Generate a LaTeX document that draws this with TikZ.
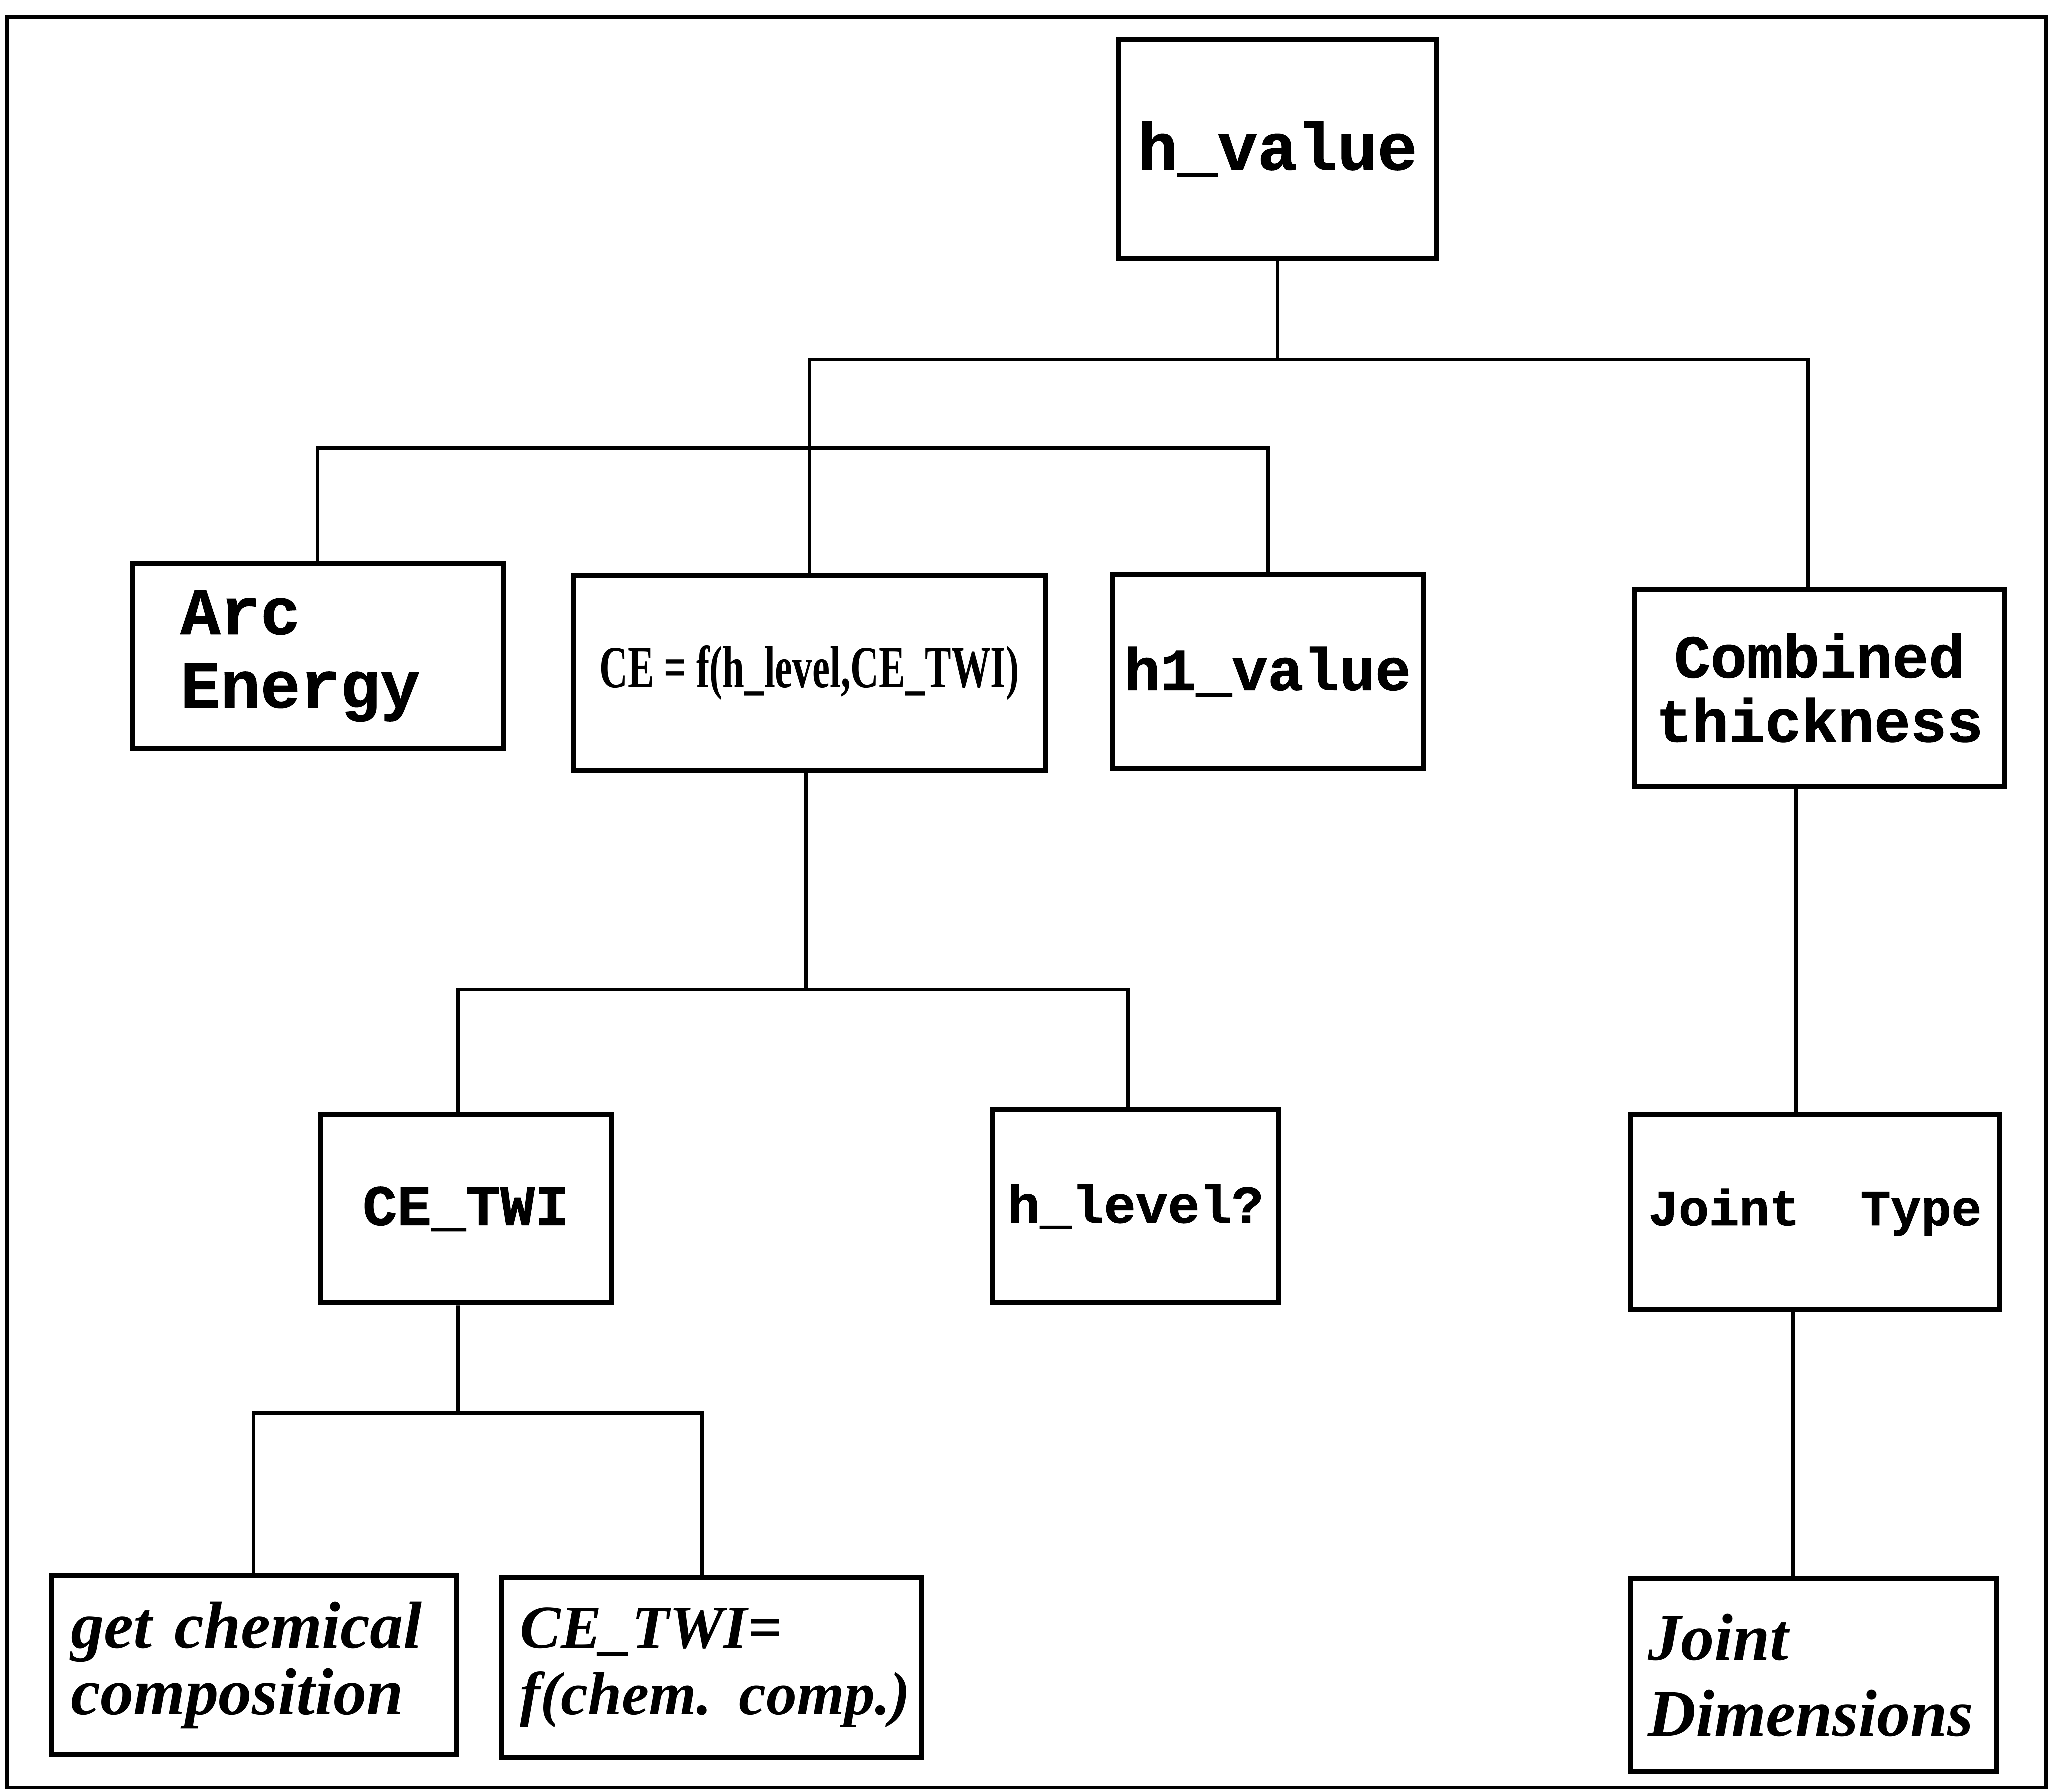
\documentclass[tikz,border=0pt]{standalone}
\usepackage{fontspec}
\usepackage{tikz}
\setmainfont{Liberation Serif}
\newfontfamily\typefont[BoldFeatures={FakeBold=1}]{Liberation Mono}
\newfontfamily\condfont[FakeStretch=0.66]{Liberation Serif}

\begin{document}
\begin{tikzpicture}[box/.style={draw, line width=1.1pt, inner sep=0pt, minimum width=#1},
    type/.style={font=\typefont\bfseries\fontsize{#1}{15}\selectfont},
    slant/.style={font=\rmfamily\bfseries\itshape\fontsize{14.5}{14.5}\selectfont, align=left},
    line width=0.8pt]

    \useasboundingbox (0, 0) rectangle (15.68, 13.71);
    \draw (0.05, 0.03) rectangle (15.66, 13.58);

    \node[box=2.43cm, minimum height=1.68cm, type=14.5] (hval) at (9.775, 12.57) {h\_value};

    \node[box=2.84cm, minimum height=1.42cm, type=14.5, align=left, text width=2.10cm] (arc) at (2.43, 8.69) {Arc\\[1pt]Energy};
    \node[box=3.61cm, minimum height=1.49cm, font=\condfont\bfseries\fontsize{13}{13}\selectfont] (ce) at (6.195, 8.56) {CE = f(h\_level,CE\_TWI)};
    \node[box=2.38cm, minimum height=1.48cm, type=13] (hone) at (9.70, 8.57) {h1\_value};
    \node[box=2.83cm, minimum height=1.51cm, type=13.2, align=center] (comb) at (13.925, 8.445) {Combined\\[-1pt]thickness};

    \node[box=2.23cm, minimum height=1.44cm, type=12.5] (cetwi) at (3.565, 4.46) {CE\_TWI};
    \node[box=2.18cm, minimum height=1.48cm, type=11.6] (hlev) at (8.69, 4.48) {h\_level?};
    \node[box=2.82cm, minimum height=1.49cm, type=11] (jtype) at (13.89, 4.435) {Joint\ \ Type};

    \node[box=3.10cm, minimum height=1.37cm, slant, text width=2.80cm] (chem) at (1.94, 0.965) {get chemical\\composition};
    \node[box=3.21cm, minimum height=1.38cm, slant, text width=2.93cm, font=\rmfamily\bfseries\itshape\fontsize{13.3}{14.5}\selectfont] (cefun) at (5.445, 0.95) {CE\_TWI=\\\mbox{f(chem.\hspace{0.45em}comp.)}};
    \node[box=2.80cm, minimum height=1.48cm, slant, text width=2.54cm] (jdim) at (13.88, 0.89) {Joint\\[2pt]Dimensions};

    \coordinate (top) at (9.775, 10.96);
    \coordinate (mid) at (6.17, 10.28);
    \coordinate (low) at (6.17, 6.14);
    \coordinate (bot) at (3.505, 2.90);

    \draw (hval.south) to (top);
    \draw (ce.north) |- (top) -| ([xshift=-0.09cm]comb.north);
    \draw (arc.north) |- (mid) -| (hone.north);
    \draw ([xshift=-0.025cm]ce.south) to (low);
    \draw ([xshift=-0.06cm]cetwi.north) |- (low) -| ([xshift=-0.06cm]hlev.north);
    \draw ([xshift=-0.06cm]cetwi.south) to (bot);
    \draw (chem.north) |- (bot) -| ([xshift=-0.07cm]cefun.north);
    \draw ([xshift=-0.18cm]comb.south) to ([xshift=-0.18cm]comb.south |- jtype.north);
    \draw ([xshift=-0.17cm]jtype.south) to ([xshift=-0.17cm]jtype.south |- jdim.north);

\end{tikzpicture}
\end{document}
